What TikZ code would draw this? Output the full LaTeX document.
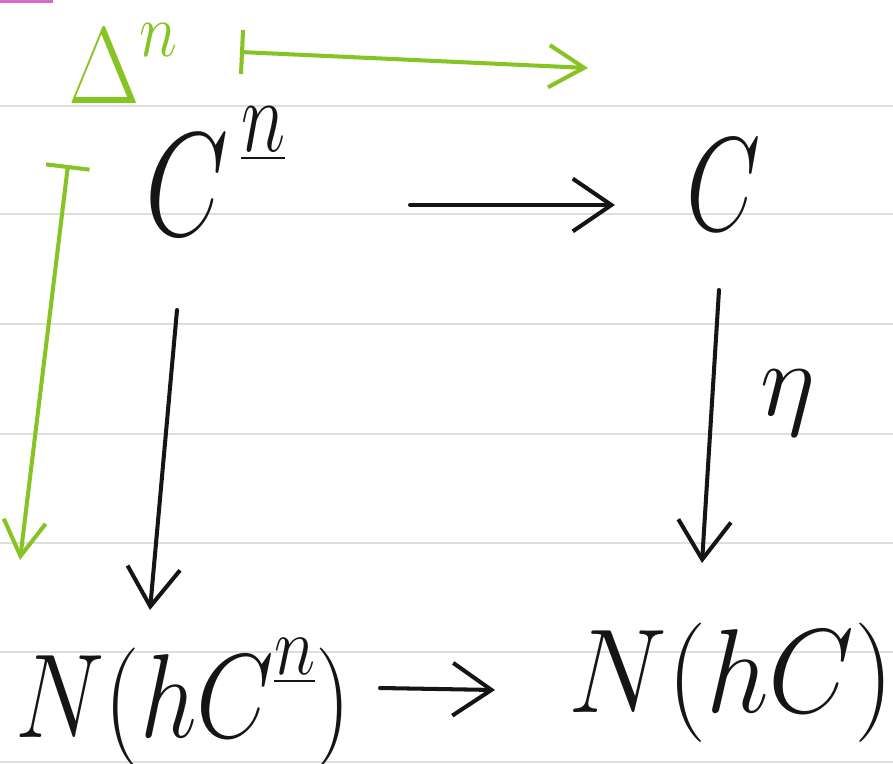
\RequirePackage{fix-cm}
\documentclass[tikz,border=0pt]{standalone}
\usepackage{amsmath}
\usepackage{graphicx}
\usetikzlibrary{arrows.meta, positioning, calc}
\definecolor{InkBlack}{HTML}{151515}
\definecolor{InkGreen}{HTML}{86C424}
\definecolor{RuleGrey}{HTML}{DEDEDE}
\definecolor{MarkPink}{HTML}{D76BCB}
% squeeze handwritten text horizontally
\newcommand{\slim}[2][0.75]{\scalebox{#1}[1]{#2}}
% raised underlined index
\newcommand{\upidx}[1][0.18em]{\raisebox{#1}{$\scriptstyle\underline{n}$}}
\tikzset{
  % Handwritten object
  obj/.style={
    inner sep=0pt, text=InkBlack, anchor=base west,
    font=\fontsize{84}{90}\selectfont
  },
  % Object on the bottom row
  lowobj/.style={
    obj, font=\fontsize{68}{72}\selectfont
  },
  % Green simplex label
  simplex/.style={
    inner sep=0pt, text=InkGreen, anchor=base west,
    font=\fontsize{62}{66}\selectfont
  },
  % Black arrow
  arrow/.style={
    -{Straight Barb[length=22pt, width=30pt, line width=2.3pt]},
    line width=2.3pt, draw=InkBlack, line cap=round
  },
  % Green maps-to arrow
  mapsto/.style={
    {Bar[width=25pt, line width=2.3pt]}-{Straight Barb[length=20pt, width=24pt, line width=2.3pt]},
    line width=2.3pt, draw=InkGreen, line cap=round
  }
}

\begin{document}
\begin{tikzpicture}[x=0.02cm, y=-0.02cm]

\useasboundingbox (0,0) rectangle (893,764);

% Ruled paper
\foreach \ypos in {106,214,324,434,543,652,762}
  \draw[RuleGrey, line width=1.2pt] (0,\ypos) -- (893,\ypos);
\fill[MarkPink] (0,0) rectangle (53,3);

% Objects
\node[simplex] (Delta) at (68,103) {\slim[0.85]{$\Delta^{\raisebox{0.06em}{$\scriptstyle n$}}$}};
\node[obj] (Cn) at (145,235) {\slim[0.73]{$C^{\,\upidx[0.2em]}$}};
\node[obj, font=\fontsize{76}{80}\selectfont] (C) at (686,230) {\slim[0.72]{$C$}};
\node[lowobj] (NCn) at (15,737) {\slim[0.84]{$N(hC^{\upidx[0.16em]})$}};
\node[lowobj] (NC) at (568,712) {\slim[0.93]{$N(hC)$}};
\node[obj, font=\fontsize{60}{66}\selectfont] (eta) at (760,415) {$\eta$};

% Free ends of the green arrows
\coordinate (top_end) at (588,68);
\coordinate (left_end) at (20,560);

% Arrows
\draw[mapsto] ($(Delta.base west)+(172,-51)$) -- (top_end);
\draw[mapsto] ($(Cn.base west)+(-77,-70)$) -- (left_end);
\draw[arrow] ($(Cn.base west)+(265,-30)$) -- ($(C.base west)+(-71,-25)$);
\draw[arrow] ($(Cn.base west)+(32,75)$) -- ($(NCn.base west)+(135,-127)$);
\draw[arrow] ($(C.base west)+(33,60)$) -- ($(NC.base west)+(134,-149)$);
\draw[arrow] ($(NCn.base west)+(365,-49)$) -- ($(NC.base west)+(-73,-22)$);

\end{tikzpicture}
\end{document}
